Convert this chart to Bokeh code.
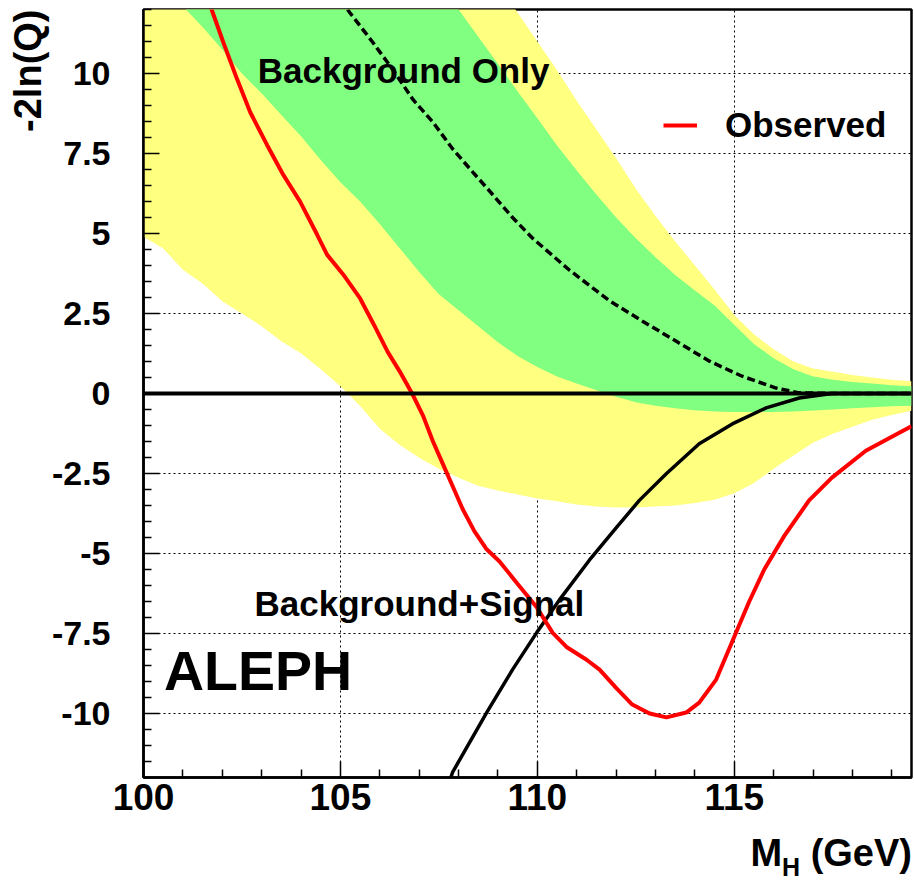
from bokeh.plotting import figure
from bokeh.models import (Range1d, FixedTicker, Label, Legend, LegendItem, Span, Title, Div,
                          CustomJSTickFormatter)
from bokeh.layouts import column
from bokeh.embed import file_html
from bokeh.resources import INLINE

# ---------------- data ----------------
# Observed -2ln(Q)
obs_mass = [101.6, 101.75, 102.03, 102.38, 102.71, 103.14, 103.55, 103.98, 104.41, 104.66,
            105.07, 105.5, 105.85, 106.2, 106.5, 106.82, 107.1, 107.35, 107.6, 107.85,
            108.1, 108.4, 108.7, 109.04, 109.5, 109.98, 110.39, 110.74, 111.25, 111.58,
            112.0, 112.41, 112.85, 113.28, 113.78, 114.11, 114.54, 115.0, 115.38, 115.76,
            116.27, 116.9, 117.48, 118.34, 119.0, 119.5]
obs_val = [12.45, 11.93, 10.96, 9.81, 8.79, 7.76, 6.83, 5.99, 4.96, 4.34,
           3.72, 2.97, 2.15, 1.3, 0.7, 0.0, -0.7, -1.5, -2.2, -2.9,
           -3.6, -4.3, -4.85, -5.25, -5.95, -6.67, -7.48, -7.92, -8.32, -8.63,
           -9.2, -9.72, -10.0, -10.12, -9.97, -9.66, -8.94, -7.6, -6.5, -5.5,
           -4.45, -3.34, -2.63, -1.79, -1.35, -1.02]

# Expected, background only (dashed)
bkg_mass = [105.0, 105.24, 105.83, 106.33, 106.84, 107.35, 107.85, 108.36, 108.87, 109.37,
            109.88, 110.82, 111.83, 112.67, 113.53, 114.37, 115.2, 116.06, 116.65, 117.5, 119.5]
bkg_val = [12.3, 11.9, 10.96, 10.12, 9.19, 8.48, 7.64, 6.92, 6.21, 5.5,
           4.85, 3.85, 2.9, 2.26, 1.63, 1.01, 0.54, 0.17, 0.02, 0.0, 0.0]

# Expected, background + signal (solid)
sig_mass = [107.75, 107.85, 108.72, 109.37, 109.98, 110.56, 111.32, 112.0, 112.59, 113.28,
            114.11, 114.95, 115.81, 116.65, 117.48, 119.5]
sig_val = [-12.2, -11.83, -9.96, -8.63, -7.48, -6.45, -5.21, -4.2, -3.34, -2.5,
           -1.57, -0.95, -0.45, -0.14, 0.0, 0.0]

# 1 sigma / 2 sigma bands around background-only expectation
band_mass = [100.0, 100.5, 101.0, 101.5, 102.0, 102.5, 103.0, 103.5, 104.0, 104.5,
             105.0, 105.5, 106.0, 106.5, 107.0, 107.5, 108.0, 108.5, 109.0, 109.5,
             110.0, 110.5, 111.0, 111.5, 112.0, 112.5, 113.0, 113.5, 114.0, 114.5,
             115.0, 115.5, 116.0, 116.5, 117.0, 117.5, 118.0, 118.5, 119.0, 119.5]
two_sigma_lo = [4.90, 4.53, 3.87, 3.44, 2.88, 2.50, 2.10, 1.63, 1.26, 0.76,
                0.23, -0.39, -1.10, -1.60, -2.01, -2.35, -2.63, -2.88, -3.03, -3.16,
                -3.28, -3.37, -3.47, -3.53, -3.56, -3.56, -3.53, -3.50, -3.42, -3.32,
                -3.12, -2.80, -2.35, -1.94, -1.54, -1.26, -1.04, -0.82, -0.67, -0.54]
two_sigma_hi = [29.0, 28.1, 27.2, 26.3, 25.4, 24.5, 23.6, 22.7, 21.8, 20.9,
                20.0, 19.1, 18.2, 17.3, 16.4, 15.5, 14.6, 13.7, 12.8, 11.9,
                11.0, 10.1, 9.15, 8.25, 7.35, 6.4, 5.55, 4.75, 4.0, 3.25,
                2.45, 1.85, 1.38, 1.0, 0.78, 0.68, 0.58, 0.5, 0.43, 0.38]
one_sigma_lo = [13.5, 12.8, 12.1, 11.45, 10.75, 10.0, 9.38, 8.7, 8.04, 7.3,
                6.6, 6.0, 5.3, 4.55, 3.8, 3.1, 2.6, 2.1, 1.6, 1.17,
                0.83, 0.53, 0.31, 0.1, -0.1, -0.27, -0.38, -0.46, -0.52, -0.56,
                -0.58, -0.58, -0.58, -0.56, -0.53, -0.5, -0.46, -0.43, -0.40, -0.38]
one_sigma_hi = [25.5, 24.65, 23.8, 22.95, 22.1, 21.25, 20.4, 19.55, 18.7, 17.85,
                17.0, 16.15, 15.3, 14.45, 13.6, 12.8, 12.0, 11.15, 10.3, 9.44,
                8.6, 7.75, 6.97, 6.22, 5.5, 4.85, 4.26, 3.7, 3.22, 2.75,
                2.15, 1.55, 1.1, 0.76, 0.53, 0.43, 0.36, 0.31, 0.26, 0.23]

x_ticks = [100, 105, 110, 115]
x_minor = [101, 102, 103, 104, 106, 107, 108, 109, 111, 112, 113, 114, 116, 117, 118, 119]
y_ticks = [-10, -7.5, -5, -2.5, 0, 2.5, 5, 7.5, 10]
y_minor = [v / 2 for v in range(-24, 25) if v % 5 != 0]

FONT = "Liberation Sans"

p = figure(width=914, height=830, output_backend="svg", toolbar_location=None,
           x_range=Range1d(100, 119.5), y_range=Range1d(-12, 12),
           min_border_left=143, min_border_right=3, min_border_top=9, min_border_bottom=53,
           background_fill_color="white", border_fill_color="white")

p.outline_line_color = "black"
p.outline_line_width = 2.5

# grid
for g in (p.xgrid, p.ygrid):
    g.grid_line_color = "black"
    g.grid_line_dash = "2 3"
    g.grid_line_width = 1
p.xgrid.ticker = FixedTicker(ticks=x_ticks)
p.ygrid.ticker = FixedTicker(ticks=y_ticks)

# axes
p.xaxis.ticker = FixedTicker(ticks=x_ticks, minor_ticks=x_minor)
p.yaxis.ticker = FixedTicker(ticks=y_ticks, minor_ticks=y_minor)
p.yaxis.formatter = CustomJSTickFormatter(code="return tick.toString();")
for ax in (p.xaxis, p.yaxis):
    ax.axis_line_color = "black"
    ax.axis_line_width = 2.5
    ax.major_tick_line_color = "black"
    ax.major_tick_line_width = 1.5
    ax.minor_tick_line_color = "black"
    ax.minor_tick_line_width = 1.5
    ax.major_tick_in = 16
    ax.major_tick_out = 0
    ax.minor_tick_in = 8
    ax.minor_tick_out = 0
    ax.major_label_text_font = FONT
    ax.major_label_text_font_style = "bold"
    ax.major_label_text_color = "black"
p.xaxis.major_label_text_font_size = "37px"
p.yaxis.major_label_text_font_size = "34px"
p.xaxis.major_label_standoff = 6
p.yaxis.major_label_standoff = 33

# y axis title, at the top of the left side
p.add_layout(Title(text="-2ln(Q)", align="right", text_font=FONT, text_font_style="bold",
                   text_font_size="38px", text_color="black", standoff=0), "left")

# bands
p.varea(x=band_mass, y1=two_sigma_lo, y2=two_sigma_hi, fill_color="#FFFF80", fill_alpha=1.0)
p.varea(x=band_mass, y1=one_sigma_lo, y2=one_sigma_hi, fill_color="#80FF80", fill_alpha=1.0)

# zero line
p.add_layout(Span(location=0, dimension="width", line_color="black", line_width=4))

# expectations
p.line(bkg_mass, bkg_val, line_color="black", line_width=3.5, line_dash="8 4")
p.line(sig_mass, sig_val, line_color="black", line_width=3.5)

# observed
obs = p.line(obs_mass, obs_val, line_color="#FF0000", line_width=4)

legend = Legend(items=[LegendItem(label="Observed", renderers=[obs])],
                location=(520, 632), border_line_color=None, background_fill_alpha=0,
                padding=0, margin=0, spacing=0, glyph_width=34, glyph_height=40,
                label_height=40, label_standoff=28,
                label_text_font=FONT, label_text_font_style="bold",
                label_text_font_size="35px", label_text_color="black")
p.add_layout(legend)

def lab(x, y, t, size, **kw):
    p.add_layout(Label(x=x, y=y, text=t, text_font=FONT, text_font_style="bold",
                       text_font_size=size, text_color="black", **kw))

lab(102.9, 9.5, "Background Only", "35px")
lab(102.82, -7.17, "Background+Signal", "35px")
lab(100.52, -9.63, "ALEPH", "55.5px")

# x axis title (below the figure, with a real subscript)
x_title = Div(
    text=('<div style="display:block; box-sizing:border-box; width:914px; height:53px; '
          'font-family:\'Liberation Sans\',Arial,sans-serif; font-weight:bold; '
          'font-size:38px; line-height:38px; color:black; text-align:right; '
          'padding-top:4px; padding-right:2px; white-space:nowrap;">'
          'M<span style="position:relative; top:10px; font-size:25px; line-height:25px;">H</span>'
          ' (GeV)</div>'),
    width=914, height=53, margin=0, styles={"text-align": "right"})

page = column(p, x_title, spacing=0, margin=0)

open("out.html", "w").write(file_html(page, INLINE))
